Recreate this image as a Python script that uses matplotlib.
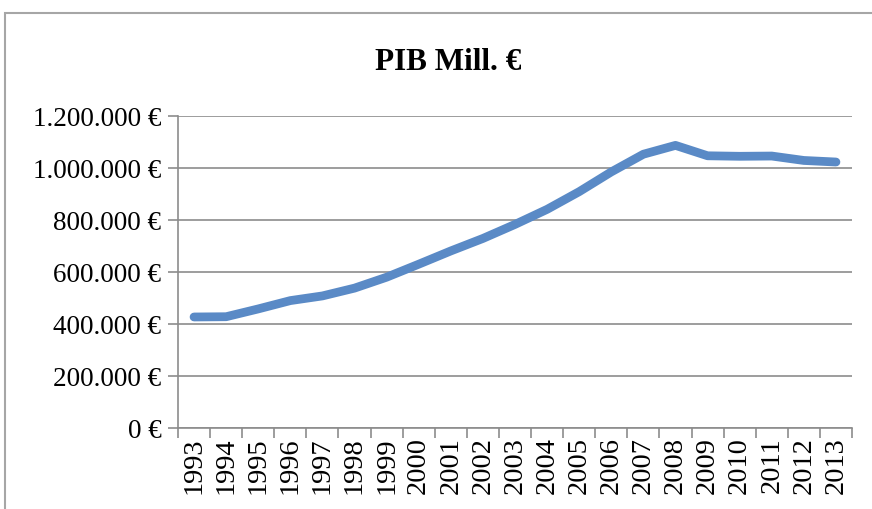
import matplotlib.pyplot as plt
from matplotlib.patches import Rectangle
from matplotlib.ticker import FuncFormatter, MultipleLocator

# PIB de España en millones de euros
years = ['1993', '1994', '1995', '1996', '1997', '1998', '1999', '2000', '2001', '2002', '2003',
         '2004', '2005', '2006', '2007', '2008', '2009', '2010', '2011', '2012', '2013']
pib = [427000, 428000, 458000, 490000, 508000, 538000, 580000, 630000, 681000, 729000, 783000,
       841000, 909000, 985000, 1053000, 1087000, 1047000, 1045000, 1046000, 1029000, 1023000]

plt.rcParams['font.family'] = ['Liberation Serif', 'DejaVu Serif']

fig = plt.figure(figsize=(8.72, 5.10), dpi=100)
ax = fig.add_axes([178 / 872, 1 - 429 / 510, (852 - 178) / 872, (429 - 117) / 510])

# chart frame (cut off at right and bottom)
fig.patches.append(Rectangle((5 / 872, -0.1), 1.2, 1 - 14 / 510 + 0.1, transform=fig.transFigure,
                             fill=False, edgecolor='#a6a6a6', linewidth=1.5))

x = range(len(years))
ax.plot(x, pib, color='#5a8ac6', linewidth=6.3, solid_capstyle='round', solid_joinstyle='round')

ax.set_xlim(-0.5, len(years) - 0.5)
ax.set_ylim(0, 1200000)
ax.yaxis.set_major_locator(MultipleLocator(200000))
ax.yaxis.set_major_formatter(FuncFormatter(lambda v, p: '{:,.0f} €'.format(v).replace(',', '.')))
ax.grid(axis='y', color='#8c8c8c', linewidth=1.2)
ax.set_axisbelow(True)

ax.set_xticks(x)
ax.set_xticklabels(years, rotation=90, fontsize=20.5)
ax.tick_params(axis='x', length=0, pad=6)
ax.set_xticks([i - 0.5 for i in range(len(years) + 1)], minor=True)
ax.tick_params(axis='x', which='minor', length=7, color='#8c8c8c', width=1.2)
ax.tick_params(axis='y', labelsize=19.5, length=7, color='#8c8c8c', width=1.2, pad=5)

for s in ['top', 'right']:
    ax.spines[s].set_visible(False)
for s in ['left', 'bottom']:
    ax.spines[s].set_color('#8c8c8c')
    ax.spines[s].set_linewidth(1.2)

fig.text(448 / 872, 1 - 62 / 510, 'PIB Mill. €', ha='center', va='center', fontsize=22.5, fontweight='bold')

fig.savefig('out.png', dpi=100)
